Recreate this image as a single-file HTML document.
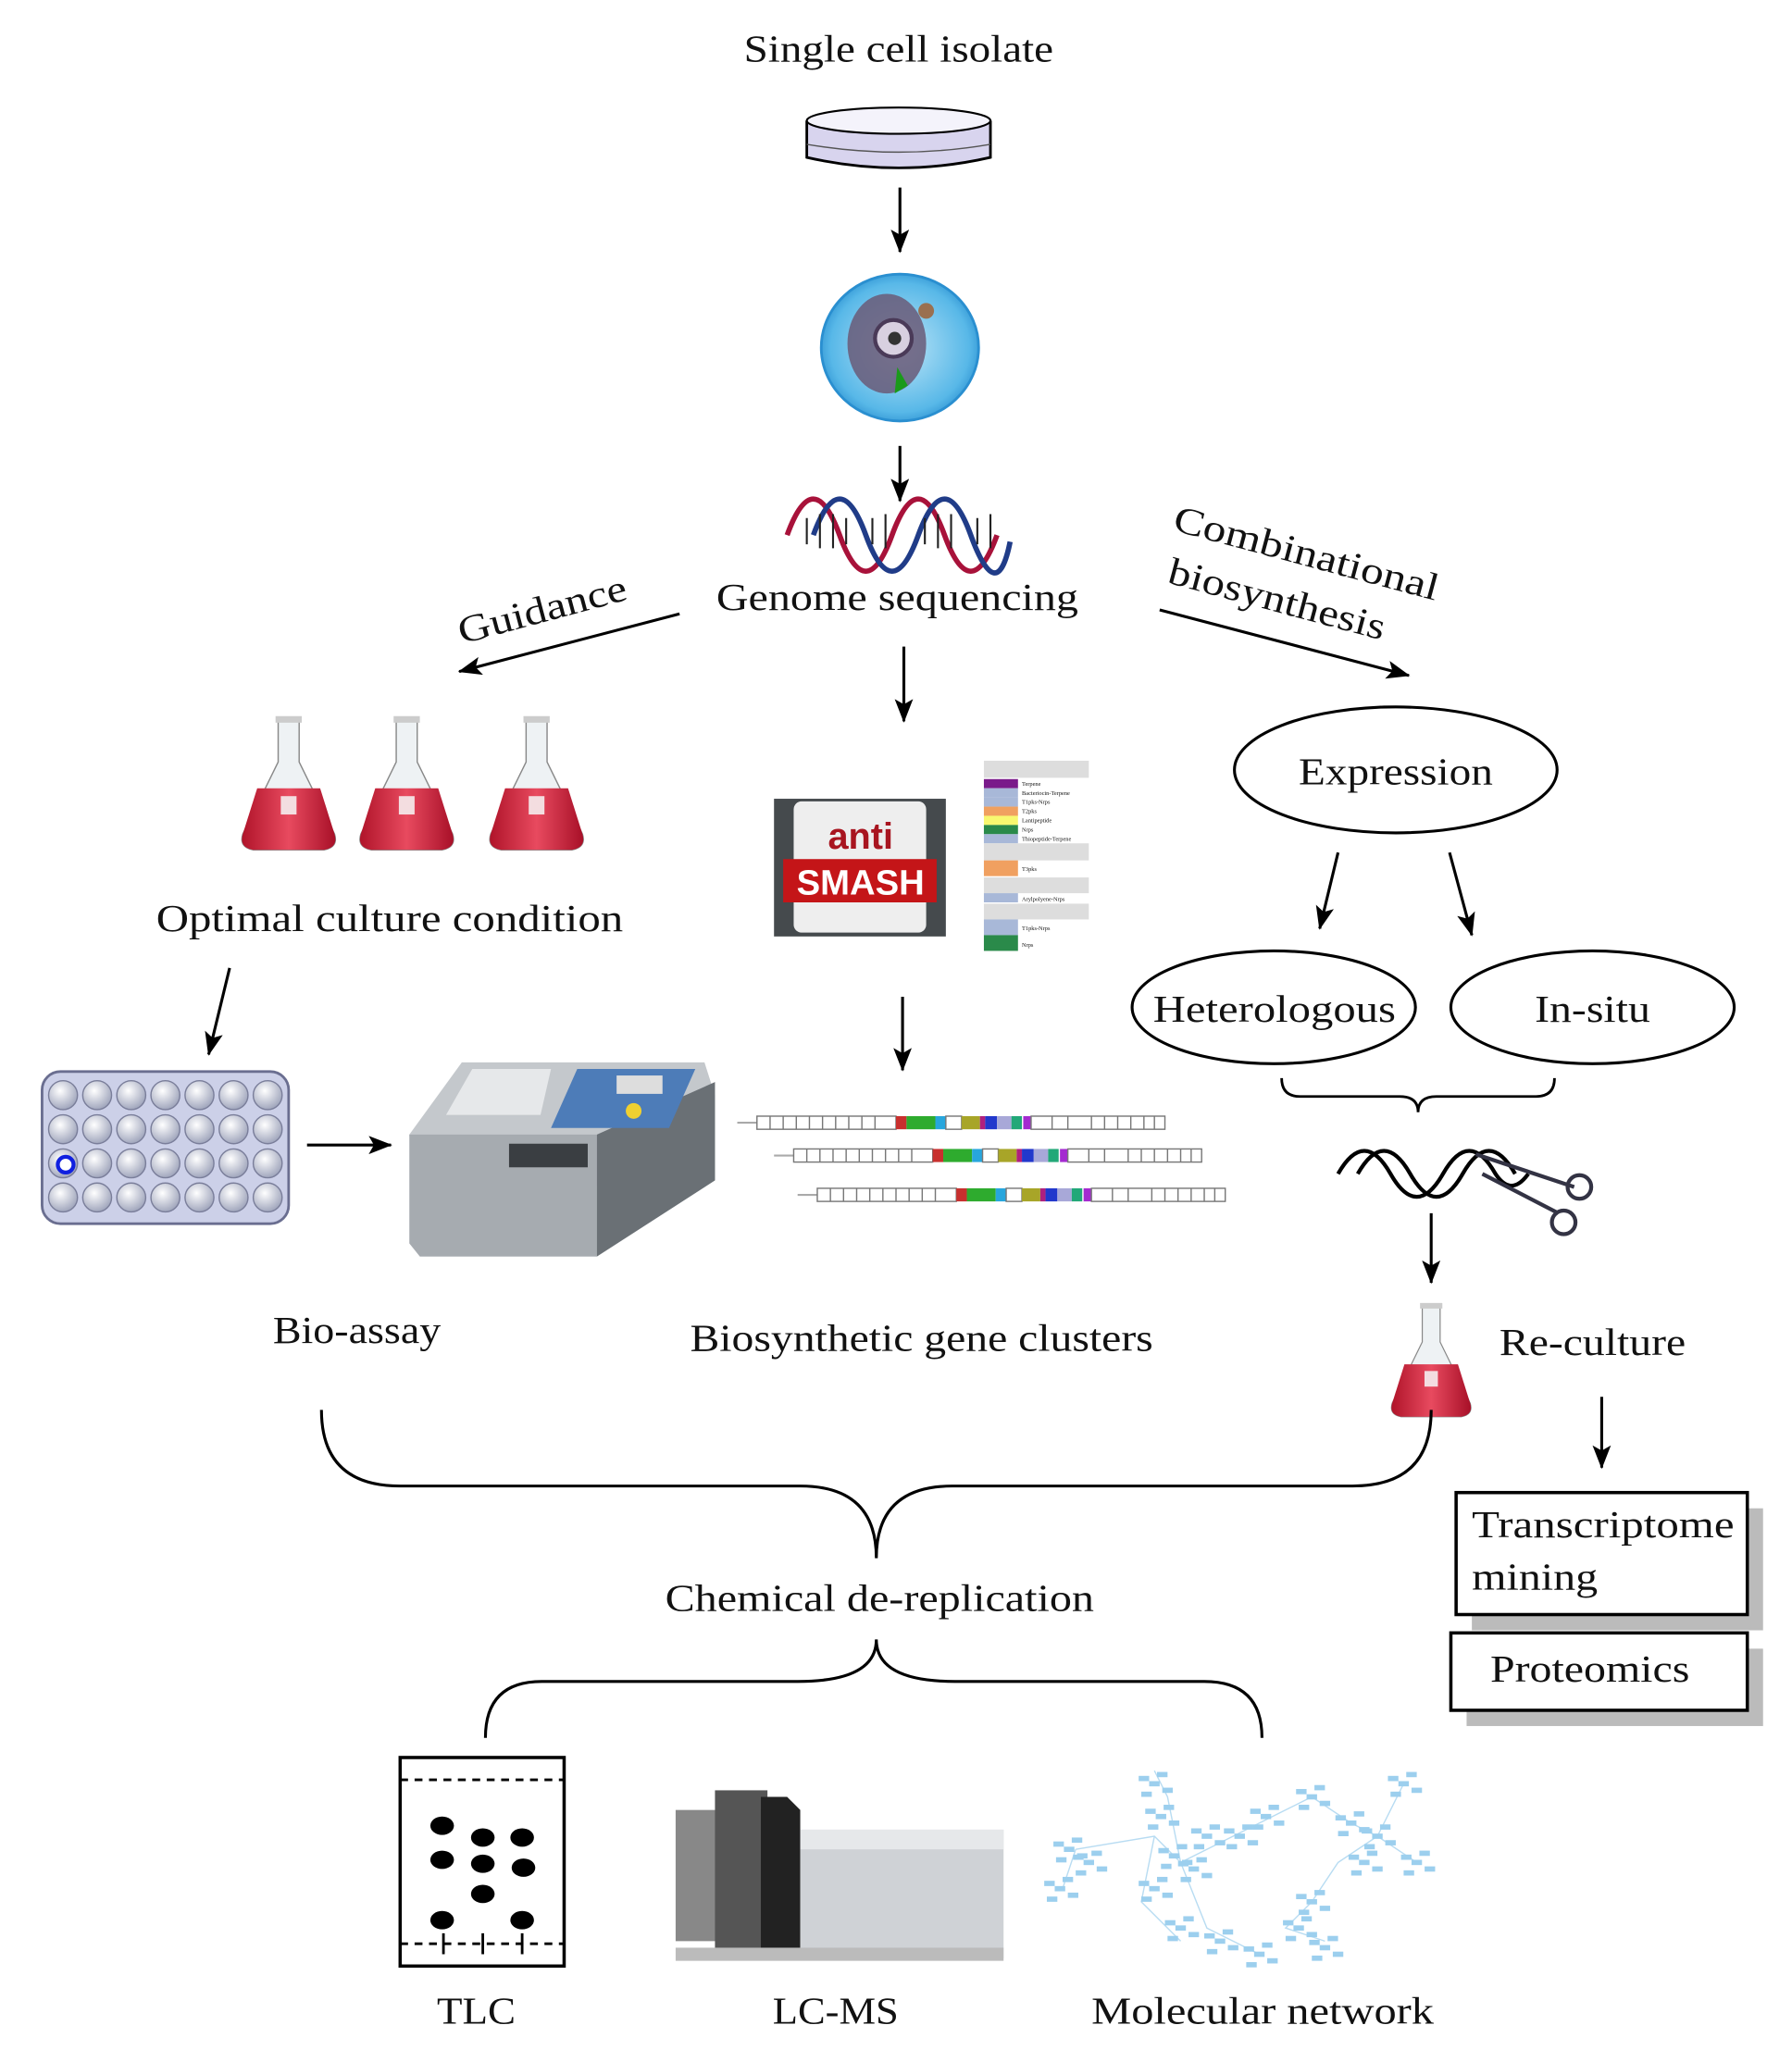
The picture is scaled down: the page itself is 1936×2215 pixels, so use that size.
<!DOCTYPE html>
<html><head><meta charset="utf-8"><style>
html,body{margin:0;padding:0;background:#fff}
svg{display:block}
text{font-family:"Liberation Serif",serif;fill:#111}
</style></head><body>
<svg width="1936" height="2215" viewBox="0 0 1366 1563" xmlns="http://www.w3.org/2000/svg">
<defs>
<marker id="ah" markerWidth="18" markerHeight="14" refX="17" refY="7" orient="auto" markerUnits="userSpaceOnUse" viewBox="0 0 18 14">
<path d="M0,0 L18,7 L0,14 L4,7 z" fill="#000"/></marker>
<linearGradient id="flask" x1="0" y1="0" x2="1" y2="0"><stop offset="0" stop-color="#b0142a"/><stop offset=".5" stop-color="#e84a5f"/><stop offset="1" stop-color="#a81028"/></linearGradient>
<radialGradient id="well" cx=".4" cy=".35" r=".7"><stop offset="0" stop-color="#fff"/><stop offset="1" stop-color="#9aa0b8"/></radialGradient>
<radialGradient id="cell" cx=".5" cy=".5" r=".55"><stop offset="0" stop-color="#bfe6f7"/><stop offset=".8" stop-color="#58b8e8"/><stop offset="1" stop-color="#2a8fd0"/></radialGradient>
<g id="fl">
<path d="M-8,0 h16 v32 l27,55 q3,10 -8,12 h-54 q-11,-2 -8,-12 l27,-55z" fill="#eef2f4" stroke="#888" stroke-width="1"/>
<path d="M-24,52 h48 l11,35 q3,10 -8,12 h-54 q-11,-2 -8,-12z" fill="url(#flask)"/>
<rect x="-6" y="58" width="12" height="14" fill="#f3dde0"/>
<rect x="-10" y="-3" width="20" height="5" fill="#ccc"/>
</g>
<g id="gc">
<line x1="0" y1="0" x2="15" y2="0" stroke="#aaa" stroke-width="1.5"/>
<rect x="15" y="-5" width="106" height="10" fill="none" stroke="#777" stroke-width="1"/>
<path d="M25,-5v10M35,-5v10M45,-5v10M55,-5v10M65,-5v10M75,-5v10M85,-5v10M95,-5v10M105,-5v10" stroke="#777" stroke-width="1"/>
<rect x="121" y="-5" width="8" height="10" fill="#c8302e"/>
<rect x="129" y="-5" width="22" height="10" fill="#2eab2e"/>
<rect x="151" y="-5" width="8" height="10" fill="#27a6dd"/>
<rect x="159" y="-5" width="12" height="10" fill="none" stroke="#777"/>
<rect x="171" y="-5" width="14" height="10" fill="#a8a528"/>
<rect x="185" y="-5" width="4" height="10" fill="#b0207e"/>
<rect x="189" y="-5" width="9" height="10" fill="#2238cc"/>
<rect x="198" y="-5" width="11" height="10" fill="#a8a8d8"/>
<rect x="209" y="-5" width="8" height="10" fill="#22a878"/>
<rect x="218" y="-5" width="6" height="10" fill="#a42ad0"/>
<rect x="224" y="-5" width="102" height="10" fill="none" stroke="#777" stroke-width="1"/>
<path d="M240,-5v10M252,-5v10M270,-5v10M280,-5v10M290,-5v10M300,-5v10M310,-5v10M318,-5v10" stroke="#777" stroke-width="1"/>
</g>
<g id="nd"><rect x="-4" y="-2" width="8" height="4" fill="#9ccfee"/><rect x="6" y="3" width="8" height="4" fill="#9ccfee"/><rect x="-10" y="6" width="8" height="4" fill="#9ccfee"/><rect x="2" y="-9" width="8" height="4" fill="#9ccfee"/><rect x="-12" y="-6" width="8" height="4" fill="#9ccfee"/></g>
</defs>

<g stroke="#000" stroke-width="2.2" fill="none" marker-end="url(#ah)">
<line x1="686" y1="143" x2="686" y2="192"/>
<line x1="686" y1="340" x2="686" y2="382"/>
<line x1="518" y1="468" x2="350" y2="512"/>
<line x1="884" y1="465" x2="1074" y2="515"/>
<line x1="689" y1="493" x2="689" y2="550"/>
<line x1="1020" y1="650" x2="1006" y2="708"/>
<line x1="1105" y1="650" x2="1122" y2="713"/>
<line x1="175" y1="738" x2="159" y2="804"/>
<line x1="234" y1="873" x2="298" y2="873"/>
<line x1="688" y1="760" x2="688" y2="816"/>
<line x1="1091" y1="925" x2="1091" y2="978"/>
<line x1="1221" y1="1065" x2="1221" y2="1119"/>
</g>

<text x="567" y="47" font-size="29" textLength="236" lengthAdjust="spacingAndGlyphs">Single cell isolate</text>
<path d="M615,92 v28 q70,16 140,0 v-28" fill="#d8d4ee" stroke="#000" stroke-width="2"/>
<ellipse cx="685" cy="92" rx="70" ry="10" fill="#f4f3fb" stroke="#000" stroke-width="1.5"/>
<path d="M615,110 q70,12 140,0" fill="none" stroke="#555"/>
<ellipse cx="686" cy="265" rx="60" ry="56" fill="url(#cell)" stroke="#2a8fd0" stroke-width="2"/>
<ellipse cx="676" cy="262" rx="30" ry="38" fill="#6a5a78" opacity=".85"/>
<circle cx="681" cy="258" r="14" fill="#d8d0e0" stroke="#4a3a58" stroke-width="3"/>
<circle cx="682" cy="258" r="5" fill="#333"/>
<path d="M684,280 l8,14 -10,6z" fill="#1a9a1a"/>
<circle cx="706" cy="237" r="6" fill="#9a7050"/>
<g fill="none" stroke-width="4">
<path d="M600,418 q20,-55 40,0 q20,55 40,0 q20,-55 40,0 q20,55 40,0" stroke="#a8123a" transform="translate(0,-10)"/>
<path d="M620,408 q20,-55 40,0 q20,55 40,0 q20,-55 40,0 q20,55 30,5" stroke="#203c88"/>
</g>
<path d="M615,395v20M625,392v26M635,392v26M645,395v20M665,395v20M675,392v26M705,395v20M715,392v26M725,392v26M745,395v20M755,392v26" stroke="#222" stroke-width="1.5"/>
<text x="546" y="465" font-size="29" textLength="276" lengthAdjust="spacingAndGlyphs">Genome sequencing</text>
<text x="0" y="0" font-size="29" textLength="132" lengthAdjust="spacingAndGlyphs" transform="translate(352,491) rotate(-15)">Guidance</text>
<text x="0" y="0" font-size="29" textLength="208" lengthAdjust="spacingAndGlyphs" transform="translate(893,404) rotate(15)">Combinational</text>
<text x="0" y="0" font-size="29" textLength="170" lengthAdjust="spacingAndGlyphs" transform="translate(889,444) rotate(15)">biosynthesis</text>

<use href="#fl" x="220" y="549"/>
<use href="#fl" x="310" y="549"/>
<use href="#fl" x="409" y="549"/>
<text x="119" y="710" font-size="29" textLength="356" lengthAdjust="spacingAndGlyphs">Optimal culture condition</text>

<rect x="590" y="609" width="131" height="105" fill="#454a4d"/>
<rect x="605" y="611" width="101" height="100" rx="6" fill="#eee"/>
<rect x="597" y="655" width="117" height="33" fill="#c41518"/>
<text x="656" y="647" font-size="28" font-weight="bold" text-anchor="middle" style="font-family:'Liberation Sans',sans-serif;fill:#a81520">anti</text>
<text x="656" y="682" font-size="27" font-weight="bold" text-anchor="middle" style="font-family:'Liberation Sans',sans-serif;fill:#fff">SMASH</text>
<g font-size="4.5" style="font-family:'Liberation Sans',sans-serif">
<rect x="750" y="580" width="80" height="13" fill="#ddd"/>
<rect x="750" y="594" width="26" height="7" fill="#7a1a8a"/><rect x="750" y="601" width="26" height="7" fill="#a8b8d8"/><rect x="750" y="608" width="26" height="7" fill="#a8b8d8"/><rect x="750" y="615" width="26" height="7" fill="#f0a060"/><rect x="750" y="622" width="26" height="7" fill="#f8f870"/><rect x="750" y="629" width="26" height="7" fill="#2a8a4a"/><rect x="750" y="636" width="26" height="7" fill="#a8b8d8"/>
<rect x="750" y="643" width="80" height="13" fill="#ddd"/><rect x="750" y="656" width="26" height="12" fill="#f0a060"/>
<rect x="750" y="669" width="80" height="12" fill="#ddd"/><rect x="750" y="681" width="26" height="7" fill="#a8b8d8"/>
<rect x="750" y="689" width="80" height="12" fill="#ddd"/><rect x="750" y="701" width="26" height="12" fill="#a8b8d8"/><rect x="750" y="713" width="26" height="12" fill="#2a8a4a"/>
<text x="779" y="599">Terpene</text><text x="779" y="606">Bacteriocin-Terpene</text><text x="779" y="613">T1pks-Nrps</text><text x="779" y="620">T2pks</text><text x="779" y="627">Lantipeptide</text><text x="779" y="634">Nrps</text><text x="779" y="641">Thiopeptide-Terpene</text><text x="779" y="664">T3pks</text><text x="779" y="687">Arylpolyene-Nrps</text><text x="779" y="709">T1pks-Nrps</text><text x="779" y="722">Nrps</text>
</g>

<ellipse cx="1064" cy="587" rx="123" ry="48" fill="none" stroke="#000" stroke-width="2.2"/>
<text x="990" y="598" font-size="29" textLength="148" lengthAdjust="spacingAndGlyphs">Expression</text>
<ellipse cx="971" cy="768" rx="108" ry="43" fill="none" stroke="#000" stroke-width="2.2"/>
<text x="879" y="779" font-size="29" textLength="185" lengthAdjust="spacingAndGlyphs">Heterologous</text>
<ellipse cx="1214" cy="768" rx="108" ry="43" fill="none" stroke="#000" stroke-width="2.2"/>
<text x="1170" y="779" font-size="29" textLength="88" lengthAdjust="spacingAndGlyphs">In-situ</text>
<path d="M977,822 q0,14 14,14 h76 q14,0 14,12 q0,-12 14,-12 h76 q14,0 14,-14" fill="none" stroke="#000" stroke-width="2"/>
<g fill="none" stroke="#000" stroke-width="3">
<path d="M1020,895 q20,-35 40,0 q20,35 40,0 q20,-35 40,0 q12,18 25,0"/>
<path d="M1035,895 q20,-35 40,0 q20,35 40,0 q20,-35 40,0"/>
</g>
<g fill="none" stroke="#334" stroke-width="3">
<line x1="1125" y1="880" x2="1200" y2="905"/><line x1="1130" y1="895" x2="1188" y2="925"/>
<circle cx="1204" cy="905" r="9"/><circle cx="1192" cy="932" r="9"/>
</g>
<g transform="translate(1091,996) scale(0.85)"><use href="#fl"/></g>
<text x="1143" y="1033" font-size="29" textLength="142" lengthAdjust="spacingAndGlyphs">Re-culture</text>

<rect x="1122" y="1150" width="222" height="93" fill="#bbb"/>
<rect x="1110" y="1138" width="222" height="93" fill="#fff" stroke="#000" stroke-width="2.5"/>
<text x="1122" y="1172" font-size="29" textLength="200" lengthAdjust="spacingAndGlyphs">Transcriptome</text>
<text x="1122" y="1212" font-size="29" textLength="96" lengthAdjust="spacingAndGlyphs">mining</text>
<rect x="1118" y="1257" width="226" height="59" fill="#bbb"/>
<rect x="1106" y="1245" width="226" height="59" fill="#fff" stroke="#000" stroke-width="2.5"/>
<text x="1136" y="1282" font-size="29" textLength="152" lengthAdjust="spacingAndGlyphs">Proteomics</text>

<rect x="32" y="817" width="188" height="116" rx="14" fill="#ccd0e8" stroke="#6a6e90" stroke-width="2"/>
<g fill="url(#well)" stroke="#7a7e9a" stroke-width="1">
<circle cx="48" cy="835" r="11"/><circle cx="74" cy="835" r="11"/><circle cx="100" cy="835" r="11"/><circle cx="126" cy="835" r="11"/><circle cx="152" cy="835" r="11"/><circle cx="178" cy="835" r="11"/><circle cx="204" cy="835" r="11"/>
<circle cx="48" cy="861" r="11"/><circle cx="74" cy="861" r="11"/><circle cx="100" cy="861" r="11"/><circle cx="126" cy="861" r="11"/><circle cx="152" cy="861" r="11"/><circle cx="178" cy="861" r="11"/><circle cx="204" cy="861" r="11"/>
<circle cx="48" cy="887" r="11"/><circle cx="74" cy="887" r="11"/><circle cx="100" cy="887" r="11"/><circle cx="126" cy="887" r="11"/><circle cx="152" cy="887" r="11"/><circle cx="178" cy="887" r="11"/><circle cx="204" cy="887" r="11"/>
<circle cx="48" cy="913" r="11"/><circle cx="74" cy="913" r="11"/><circle cx="100" cy="913" r="11"/><circle cx="126" cy="913" r="11"/><circle cx="152" cy="913" r="11"/><circle cx="178" cy="913" r="11"/><circle cx="204" cy="913" r="11"/>
</g>
<circle cx="50" cy="888" r="6" fill="#fff" stroke="#1020e0" stroke-width="3"/>

<path d="M312,865 l40,-55 h185 l8,25 v65 l-90,58 h-135z" fill="#c4c8cc"/>
<path d="M312,865 h143 v93 h-135 l-8,-10z" fill="#a6abb0"/>
<path d="M455,865 l90,-40 v75 l-90,58z" fill="#6a7075"/>
<path d="M340,850 l20,-35 h60 l-8,35z" fill="#e6e8ea"/>
<path d="M420,860 l20,-45 h90 l-20,45z" fill="#4d7cb8"/>
<rect x="470" y="820" width="35" height="14" fill="#ddd"/>
<circle cx="483" cy="847" r="6" fill="#f0d030"/>
<rect x="388" y="872" width="60" height="18" fill="#3a3e42"/>

<use href="#gc" x="562" y="856"/>
<use href="#gc" x="590" y="881"/>
<use href="#gc" x="608" y="911"/>

<text x="208" y="1024" font-size="29" textLength="128" lengthAdjust="spacingAndGlyphs">Bio-assay</text>
<text x="526" y="1030" font-size="29" textLength="353" lengthAdjust="spacingAndGlyphs">Biosynthetic gene clusters</text>

<path d="M245,1075 q0,58 60,58 h305 q58,0 58,55 q0,-55 58,-55 h305 q60,0 60,-58" fill="none" stroke="#000" stroke-width="2.2"/>
<text x="507" y="1228" font-size="29" textLength="327" lengthAdjust="spacingAndGlyphs">Chemical de-replication</text>
<path d="M668,1250 q0,32 -60,32 h-195 q-43,0 -43,43 M668,1250 q0,32 60,32 h190 q44,0 44,43" fill="none" stroke="#000" stroke-width="2.2"/>

<rect x="305" y="1340" width="125" height="159" fill="#fff" stroke="#000" stroke-width="2.5"/>
<line x1="305" y1="1357" x2="430" y2="1357" stroke="#000" stroke-width="2" stroke-dasharray="6,5"/>
<line x1="305" y1="1482" x2="430" y2="1482" stroke="#000" stroke-width="2" stroke-dasharray="6,5"/>
<path d="M338,1474v16M368,1474v16M398,1474v16" stroke="#000" stroke-width="2"/>
<g fill="#000"><ellipse cx="337" cy="1392" rx="9" ry="7"/><ellipse cx="368" cy="1401" rx="9" ry="7"/><ellipse cx="398" cy="1401" rx="9" ry="7"/><ellipse cx="337" cy="1418" rx="9" ry="7"/><ellipse cx="368" cy="1421" rx="9" ry="7"/><ellipse cx="399" cy="1424" rx="9" ry="7"/><ellipse cx="368" cy="1444" rx="9" ry="7"/><ellipse cx="337" cy="1464" rx="9" ry="7"/><ellipse cx="398" cy="1464" rx="9" ry="7"/></g>

<rect x="515" y="1380" width="35" height="100" fill="#888"/>
<rect x="545" y="1365" width="40" height="125" fill="#555"/>
<path d="M580,1370 h20 l10,10 v112 h-30z" fill="#222"/>
<rect x="610" y="1395" width="155" height="98" fill="#cfd2d6"/>
<rect x="610" y="1395" width="155" height="15" fill="#e6e8ea"/>
<rect x="515" y="1485" width="250" height="10" fill="#bbb"/>

<g stroke="#b8dcf2" stroke-width="1" fill="none">
<path d="M820,1410 L880,1400 L900,1420 L940,1400 L980,1380 L1000,1370 L1030,1390 L1050,1400 L1070,1360 M900,1420 L890,1370 L880,1350 M900,1420 L920,1470 L960,1490 M1000,1450 L1020,1420 L1050,1400 L1080,1420 M1000,1450 L980,1470 L1010,1480 M820,1410 L810,1440 M880,1400 L870,1450 L900,1480"/>
</g>
<use href="#nd" x="815" y="1410"/><use href="#nd" x="830" y="1420"/><use href="#nd" x="808" y="1440"/>
<use href="#nd" x="880" y="1360"/><use href="#nd" x="885" y="1385"/><use href="#nd" x="895" y="1415"/><use href="#nd" x="910" y="1425"/><use href="#nd" x="880" y="1440"/><use href="#nd" x="900" y="1470"/><use href="#nd" x="920" y="1400"/>
<use href="#nd" x="945" y="1400"/><use href="#nd" x="965" y="1385"/><use href="#nd" x="1000" y="1370"/><use href="#nd" x="1030" y="1390"/><use href="#nd" x="1050" y="1400"/><use href="#nd" x="1070" y="1360"/><use href="#nd" x="1080" y="1420"/><use href="#nd" x="1040" y="1420"/>
<use href="#nd" x="1000" y="1450"/><use href="#nd" x="990" y="1470"/><use href="#nd" x="1010" y="1485"/><use href="#nd" x="960" y="1490"/><use href="#nd" x="930" y="1480"/>
<text x="333" y="1543" font-size="29" textLength="60" lengthAdjust="spacingAndGlyphs">TLC</text>
<text x="589" y="1543" font-size="29" textLength="96" lengthAdjust="spacingAndGlyphs">LC-MS</text>
<text x="832" y="1543" font-size="29" textLength="261" lengthAdjust="spacingAndGlyphs">Molecular network</text>
</svg>
</body></html>
